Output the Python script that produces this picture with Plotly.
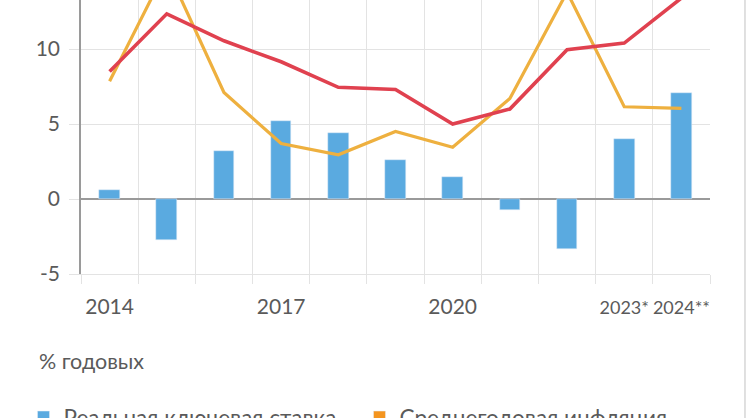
import plotly.graph_objects as go

# values
years = ["2014", "2015", "2016", "2017", "2018", "2019", "2020",
         "2021", "2022", "2023*", "2024**"]
tick_text = ["2014", "", "", "2017", "", "", "2020", "", "",
             "<span style='font-size:18px'>2023*</span>",
             "<span style='font-size:18px'>2024**</span>"]
real_rate = [0.6, -2.7, 3.2, 5.2, 4.4, 2.6, 1.5, -0.7, -3.35, 4.0, 7.1]
key_rate = [8.5, 12.35, 10.55, 9.15, 7.45, 7.3, 5.0, 6.0, 9.95, 10.4, 13.4]
inflation = [7.85, 15.4, 7.1, 3.7, 2.95, 4.5, 3.45, 6.7, 13.8, 6.15, 6.05]
y_ticks = [-5, 0, 5, 10]
y_tick_text = ["-5", "0", "5", "10"]

BLUE = "#5aaae0"
RED = "#e0414f"
YELLOW = "#eeb03f"
ORANGE = "#f4951f"
GRID = "#e3e3e3"
TXT = "#5a5a5a"
FONT = "Lato"

fig = go.Figure()
fig.add_trace(go.Bar(x=years, y=real_rate, marker={"color": BLUE}, width=0.36,
                     name="Реальная ключевая ставка"))
fig.add_trace(go.Scatter(x=years, y=inflation, mode="lines",
                         line={"color": YELLOW, "width": 3.2},
                         name="Среднегодовая инфляция", showlegend=False))
fig.add_trace(go.Scatter(x=years, y=key_rate, mode="lines",
                         line={"color": RED, "width": 3.6},
                         name="Ключевая ставка", showlegend=False))
# legend swatches (square markers like the original)
fig.add_trace(go.Bar(x=[None], y=[None], marker={"color": ORANGE},
                     name="Среднегодовая инфляция"))
fig.add_trace(go.Bar(x=[None], y=[None], marker={"color": RED},
                     name="Ключевая ставка"))

fig.update_layout(
    width=747, height=418,
    margin={"l": 81, "r": 37, "t": 0, "b": 144, "autoexpand": False},
    plot_bgcolor="white", paper_bgcolor="white",
    font={"family": FONT, "size": 21, "color": TXT},
    barmode="overlay", bargap=0,
    legend={"orientation": "h", "x": -0.0914, "xanchor": "left",
            "y": -0.445, "yanchor": "top",
            "font": {"size": 22.5, "color": TXT}, "entrywidth": 291,
            "traceorder": "normal"},
    annotations=[{"text": "% годовых", "xref": "paper", "yref": "paper",
                  "x": -0.07, "xanchor": "left", "y": -0.3175, "yanchor": "middle",
                  "showarrow": False, "font": {"size": 21.5, "color": TXT}}],
    shapes=[{"type": "line", "xref": "paper", "yref": "paper",
             "x0": 1.0556, "x1": 1.0556, "y0": -0.53, "y1": 1,
             "line": {"color": "#d6d6d6", "width": 1.5}}],
)
fig.update_xaxes(type="category", tickmode="array", tickvals=years, ticktext=tick_text,
                 tickson="boundaries", ticks="outside", ticklen=9, tickcolor=GRID,
                 showgrid=True, gridcolor=GRID, gridwidth=1.3,
                 showline=True, linecolor=GRID, linewidth=1.3, tickangle=0,
                 range=[-0.5, 10.5], ticklabelstandoff=14)
fig.update_yaxes(range=[-5, 13.27], tickmode="array", tickvals=y_ticks,
                 ticktext=y_tick_text, ticks="outside", ticklen=10, tickcolor=GRID,
                 showgrid=True, gridcolor=GRID, gridwidth=1.3,
                 zeroline=True, zerolinecolor="#9a9a9a", zerolinewidth=1.5,
                 showline=True, linecolor="#9a9a9a", linewidth=1.5,
                 ticklabelstandoff=5)

# page has a default 8px body margin which shifts the whole chart
fig.write_html("out.html", config={"displayModeBar": False},
               post_script="document.body.style.margin = '0';")
